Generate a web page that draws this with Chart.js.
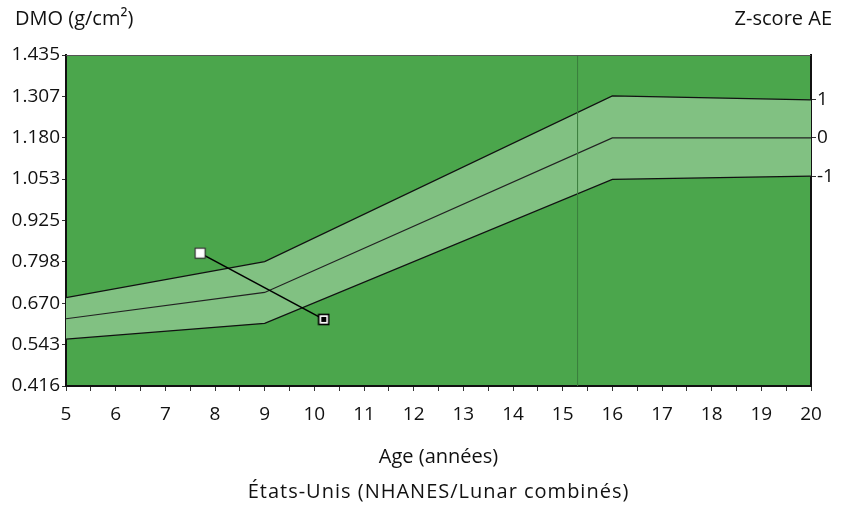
<!DOCTYPE html>
<html>
<head>
<meta charset="utf-8">
<script src="https://cdn.jsdelivr.net/npm/chart.js@4"></script>
<style>
html,body{margin:0;padding:0;background:#fff;}
#wrap{width:849px;height:506px;position:relative;}
</style>
</head>
<body>
<div id="wrap"><canvas id="c" width="849" height="506"></canvas></div>
<script>
// ---- data ----
const refAges = [5, 9, 16, 20];
const refPlus1 = [0.688, 0.799, 1.309, 1.297];
const refMedian = [0.623, 0.704, 1.180, 1.180];
const refMinus1 = [0.560, 0.609, 1.052, 1.062];
const patientAges = [7.7, 10.19];
const patientBMD = [0.825, 0.621];
const markerAge = [15.3];
const yTickValues = [0.416, 0.543, 0.670, 0.798, 0.925, 1.053, 1.180, 1.307, 1.435];
const yTickLabels = ['0.416', '0.543', '0.670', '0.798', '0.925', '1.053', '1.180', '1.307', '1.435'];
const zTickValues = [1.297, 1.180, 1.062];
const zTickLabels = ['1', '0', '-1'];
const xTickLabels = ['5','6','7','8','9','10','11','12','13','14','15','16','17','18','19','20'];

const FONT = "'Open Sans', 'Noto Sans', sans-serif";
const TICK_SIZE = 19;
const TITLE_SIZE = 20;
const darkGreen = 'rgb(75,166,76)';
const lightGreen = 'rgb(129,193,130)';

function mkMarker(filledCenter) {
  const c = document.createElement('canvas');
  c.width = 13; c.height = 13;
  const g = c.getContext('2d');
  g.fillStyle = '#fff';
  g.fillRect(1, 1, 11, 11);
  g.strokeStyle = filledCenter ? '#000' : '#333';
  g.lineWidth = filledCenter ? 1.6 : 1.2;
  g.strokeRect(1.5, 1.5, 10, 10);
  if (filledCenter) { g.fillStyle = '#000'; g.fillRect(4, 4, 5, 5); }
  return c;
}

const toXY = (xs, ys) => xs.map((x, i) => ({x: x, y: ys[i]}));

const bgPlugin = {
  id: 'bg',
  beforeDraw(chart) {
    const a = chart.chartArea, ctx = chart.ctx;
    ctx.save();
    ctx.fillStyle = darkGreen;
    ctx.fillRect(a.left, a.top, a.right - a.left, a.bottom - a.top);
    ctx.restore();
  },
  afterDraw(chart) {
    const a = chart.chartArea, ctx = chart.ctx;
    ctx.save();
    ctx.strokeStyle = '#555';
    ctx.lineWidth = 1;
    ctx.beginPath();
    ctx.moveTo(a.left, a.top + 0.5);
    ctx.lineTo(a.right, a.top + 0.5);
    ctx.stroke();
    ctx.fillStyle = '#111';
    ctx.font = TITLE_SIZE + "px " + FONT;
    ctx.textBaseline = 'alphabetic';
    ctx.textAlign = 'left';
    ctx.fillText('DMO (g/cm²)', 15, 25);
    ctx.textAlign = 'right';
    ctx.fillText('Z-score AE', 832, 25);
    ctx.textAlign = 'center';
    const cx = (a.left + a.right) / 2;
    ctx.fillText('Age (années)', cx, 463);
    if ('letterSpacing' in ctx) ctx.letterSpacing = '1px';
    ctx.fillText('États-Unis (NHANES/Lunar combinés)', cx, 498);
    ctx.restore();
  }
};

new Chart(document.getElementById('c'), {
  type: 'line',
  data: {
    datasets: [
      {
        label: 'patient',
        data: toXY(patientAges, patientBMD),
        borderColor: '#000',
        borderWidth: 1.6,
        pointStyle: [mkMarker(false), mkMarker(true)],
        pointRadius: 6,
        fill: false
      },
      {
        label: 'marker',
        data: [{x: markerAge[0], y: yTickValues[0]}, {x: markerAge[0], y: yTickValues[yTickValues.length - 1]}],
        borderColor: 'rgb(58,124,60)',
        borderWidth: 1,
        pointRadius: 0,
        fill: false
      },
      {
        label: '+1',
        data: toXY(refAges, refPlus1),
        borderColor: '#111',
        borderWidth: 1.2,
        pointRadius: 0,
        fill: false
      },
      {
        label: '0',
        data: toXY(refAges, refMedian),
        borderColor: '#222',
        borderWidth: 1.2,
        pointRadius: 0,
        fill: false
      },
      {
        label: '-1',
        data: toXY(refAges, refMinus1),
        borderColor: '#111',
        borderWidth: 1.2,
        pointRadius: 0,
        backgroundColor: lightGreen,
        fill: '-2'
      }
    ]
  },
  options: {
    responsive: false,
    animation: false,
    layout: {padding: {top: 55, left: 0, right: 0, bottom: 0}},
    plugins: {legend: {display: false}, tooltip: {enabled: false}, filler: {drawTime: 'beforeDatasetsDraw'}},
    elements: {line: {tension: 0}},
    scales: {
      x: {
        type: 'linear', min: 5, max: 20,
        afterBuildTicks(s) {
          const t = [];
          for (let v = 5; v <= 20.001; v += 0.5) t.push({value: v});
          s.ticks = t;
        },
        afterFit(s) { s.height = 120; },
        ticks: {
          autoSkip: false, maxRotation: 0, padding: 12, color: '#111',
          font: {family: FONT, size: TICK_SIZE},
          callback(v) { return Number.isInteger(v) ? xTickLabels[v - 5] : ''; }
        },
        grid: {drawOnChartArea: false, drawTicks: true, tickLength: 5, color: '#333'},
        border: {display: true, color: '#111', width: 2}
      },
      y: {
        type: 'linear', position: 'left', min: yTickValues[0], max: yTickValues[yTickValues.length - 1],
        afterBuildTicks(s) { s.ticks = yTickValues.map(v => ({value: v})); },
        afterFit(s) { s.width = 66; },
        ticks: {
          autoSkip: false, padding: 2, color: '#111',
          font: {family: FONT, size: TICK_SIZE},
          callback(v, i) { return yTickLabels[i]; }
        },
        grid: {drawOnChartArea: false, drawTicks: true, tickLength: 4, color: '#333'},
        border: {display: true, color: '#111', width: 2}
      },
      y2: {
        type: 'linear', position: 'right', min: yTickValues[0], max: yTickValues[yTickValues.length - 1],
        afterBuildTicks(s) { s.ticks = zTickValues.map(v => ({value: v})); },
        afterFit(s) { s.width = 38; },
        ticks: {
          autoSkip: false, padding: 1, color: '#111',
          font: {family: FONT, size: TICK_SIZE},
          callback(v, i) { return zTickLabels[i]; }
        },
        grid: {drawOnChartArea: false, drawTicks: true, tickLength: 5, color: '#333'},
        border: {display: true, color: '#111', width: 2}
      }
    }
  },
  plugins: [bgPlugin]
});
</script>
</body>
</html>
